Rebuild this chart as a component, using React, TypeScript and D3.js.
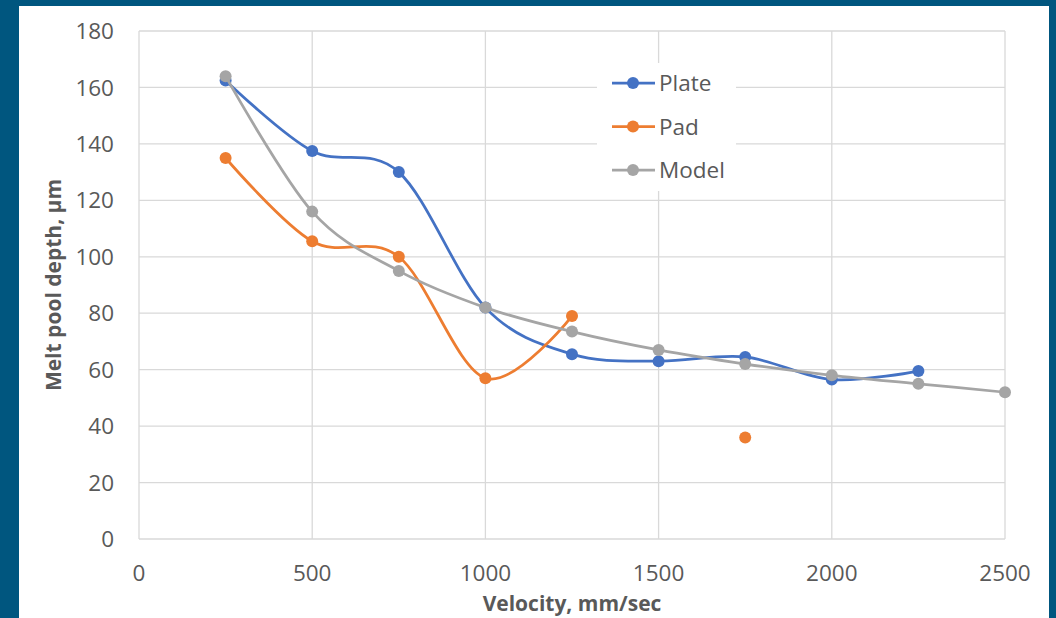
import { useEffect, useRef } from 'react';
import * as d3 from 'd3';

// velocity, mm/sec
const velocity = [250, 500, 750, 1000, 1250, 1500, 1750, 2000, 2250, 2500];
// melt pool depth, um (null = no measurement)
const plateDepth = [162.5, 137.5, 130, 82, 65.5, 63, 64.5, 56.5, 59.5, null];
const padDepth = [135, 105.5, 100, 57, 79, null, 36, null, null, null];
const modelDepth = [164, 116, 95, 82, 73.5, 67, 62, 58, 55, 52];

const seriesNames = ['Plate', 'Pad', 'Model'];
const seriesColors = ['#4472C4', '#ED7D31', '#A5A5A5'];
const xTicks = [0, 500, 1000, 1500, 2000, 2500];
const yTicks = [0, 20, 40, 60, 80, 100, 120, 140, 160, 180];

const W = 1056;
const H = 618;
const FONT = '"Open Sans", "Liberation Sans", sans-serif';

export default function App() {
  const svgRef = useRef<SVGSVGElement>(null);

  useEffect(() => {
    if (!svgRef.current) return;
    const svg = d3.select(svgRef.current);
    svg.selectAll('*').remove();

    // slide frame
    svg.append('rect').attr('width', W).attr('height', H).attr('fill', '#00567F');
    svg.append('rect').attr('x', 19).attr('y', 6).attr('width', 1030).attr('height', H - 6).attr('fill', '#ffffff');

    const x = d3.scaleLinear().domain([0, 2500]).range([139, 1005]);
    const y = d3.scaleLinear().domain([0, 180]).range([539, 31]);

    // gridlines
    svg.append('g')
      .selectAll('line')
      .data(yTicks)
      .join('line')
      .attr('x1', x(0))
      .attr('x2', x(2500))
      .attr('y1', d => y(d))
      .attr('y2', d => y(d))
      .attr('stroke', '#d9d9d9')
      .attr('stroke-width', 1.3);
    svg.append('g')
      .selectAll('line')
      .data(xTicks)
      .join('line')
      .attr('x1', d => x(d))
      .attr('x2', d => x(d))
      .attr('y1', y(0))
      .attr('y2', y(180))
      .attr('stroke', '#d9d9d9')
      .attr('stroke-width', 1.3);

    // tick labels
    svg.append('g')
      .selectAll('text')
      .data(yTicks)
      .join('text')
      .attr('x', 114)
      .attr('y', d => y(d))
      .attr('dy', '0.36em')
      .attr('text-anchor', 'end')
      .attr('fill', '#595959')
      .style('font-family', FONT)
      .style('font-size', '22.5px')
      .text(d => d);
    svg.append('g')
      .selectAll('text')
      .data(xTicks)
      .join('text')
      .attr('x', d => x(d))
      .attr('y', 581)
      .attr('text-anchor', 'middle')
      .attr('fill', '#595959')
      .style('font-family', FONT)
      .style('font-size', '22.5px')
      .text(d => d);

    // axis titles
    svg.append('text')
      .attr('transform', `translate(61, ${y(90)}) rotate(-90)`)
      .attr('text-anchor', 'middle')
      .attr('fill', '#595959')
      .style('font-family', FONT)
      .style('font-size', '21px')
      .style('font-weight', 'bold')
      .text('Melt pool depth, µm');
    svg.append('text')
      .attr('x', x(1250))
      .attr('y', 611)
      .attr('text-anchor', 'middle')
      .attr('fill', '#595959')
      .style('font-family', FONT)
      .style('font-size', '21px')
      .style('font-weight', 'bold')
      .text('Velocity, mm/sec');

    // series
    const allSeries = [plateDepth, padDepth, modelDepth];
    const line = d3.line<[number, number | null]>()
      .defined(d => d[1] !== null)
      .x(d => x(d[0]))
      .y(d => y(d[1] as number))
      .curve(d3.curveCardinal.tension(0));

    allSeries.forEach((vals, i) => {
      const pts = velocity.map((v, j) => [v, vals[j]] as [number, number | null]);
      svg.append('path')
        .datum(pts)
        .attr('fill', 'none')
        .attr('stroke', seriesColors[i])
        .attr('stroke-width', 2.75)
        .attr('d', line);
      svg.append('g')
        .selectAll('circle')
        .data(pts.filter(d => d[1] !== null))
        .join('circle')
        .attr('cx', d => x(d[0]))
        .attr('cy', d => y(d[1] as number))
        .attr('r', 6)
        .attr('fill', seriesColors[i]);
    });

    // legend
    const legend = svg.append('g');
    legend.append('rect')
      .attr('x', 597)
      .attr('y', 63)
      .attr('width', 139)
      .attr('height', 128)
      .attr('fill', '#ffffff');
    seriesNames.forEach((name, i) => {
      const cy = 83 + i * 43.5;
      legend.append('line')
        .attr('x1', 612)
        .attr('x2', 655)
        .attr('y1', cy)
        .attr('y2', cy)
        .attr('stroke', seriesColors[i])
        .attr('stroke-width', 2.75);
      legend.append('circle')
        .attr('cx', 633)
        .attr('cy', cy)
        .attr('r', 6)
        .attr('fill', seriesColors[i]);
      legend.append('text')
        .attr('x', 659)
        .attr('y', cy)
        .attr('dy', '0.36em')
        .attr('fill', '#595959')
        .style('font-family', FONT)
        .style('font-size', '22.5px')
        .text(name);
    });
  }, []);

  return (
    <svg
      ref={svgRef}
      width={W}
      height={H}
      style={{ position: 'absolute', left: 0, top: 0, display: 'block' }}
    />
  );
}
